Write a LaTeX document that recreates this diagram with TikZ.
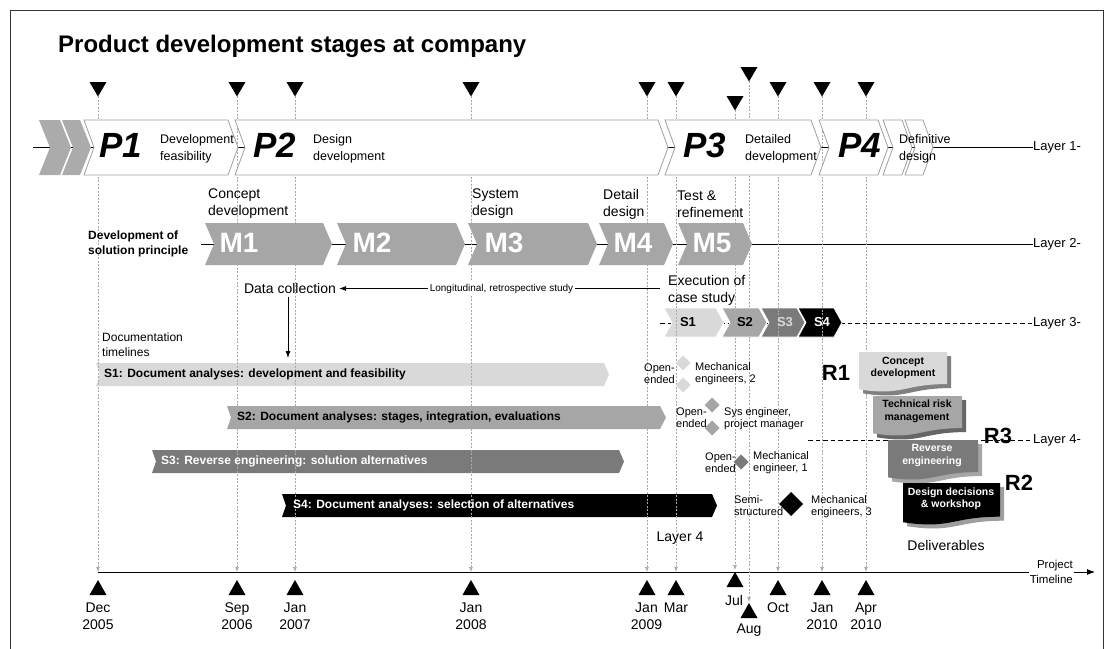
\documentclass[tikz,border=0pt]{standalone}
\usepackage{fontspec}
\setmainfont{Liberation Sans}
\usetikzlibrary{arrows.meta}
\definecolor{lgr}{HTML}{D9D9D9}
\definecolor{mgr}{HTML}{A6A6A6}
\definecolor{dgr}{HTML}{7A7A7A}
\definecolor{cgr}{HTML}{ABABAB}
\definecolor{bord}{HTML}{A0A0A0}
\definecolor{vlc}{HTML}{AAAAAA}
\newcommand\chevx[7]{\path[#7] (#1,#3) -- (#2,#3) -- ({#2+#6},{(#3+#4)/2}) -- (#2,#4) -- (#1,#4) -- ({#1+#5},{(#3+#4)/2}) -- cycle;}
\newcommand\chev[6]{\chevx{#1}{#2}{#3}{#4}{#5}{#5}{#6}}
\newcommand\wavebox[7]{%
 \path[fill=#6] ({#1+#7},{#3+#7}) -- ({#2+#7},{#3+#7}) -- ({#2+#7},{#3+#7+0.802*#4}) .. controls ({(#1+#2)/2+#7},{#3+#7+0.802*#4}) and ({(#1+#2)/2+#7},{#3+#7+1.107*#4}) .. ({#1+#7},{#3+#7+0.934*#4}) -- cycle;
 \path[fill=#5] (#1,#3) -- (#2,#3) -- (#2,{#3+0.802*#4}) .. controls ({(#1+#2)/2},{#3+0.802*#4}) and ({(#1+#2)/2},{#3+1.107*#4}) .. (#1,{#3+0.934*#4}) -- cycle;}
\newcommand\diam[4]{\path[fill=#4] (#1,{#2-#3}) -- ({#1+#3},#2) -- (#1,{#2+#3}) -- ({#1-#3},#2) -- cycle;}
\tikzset{
 every node/.style={inner sep=0pt},
 f10/.style={font=\fontsize{11}{12}\selectfont, align=left, anchor=west},
 f12/.style={font=\fontsize{12.5}{17}\selectfont, align=left, anchor=west},
 f14/.style={font=\fontsize{14}{17}\selectfont, align=left, anchor=west},
 datel/.style={font=\fontsize{14}{17}\selectfont, align=center},
 pl/.style={font=\fontsize{35}{35}\selectfont\bfseries\itshape},
 ml/.style={font=\fontsize{28}{28}\selectfont\bfseries, text=white},
 sl/.style={font=\fontsize{13}{13}\selectfont\bfseries},
 bl/.style={font=\fontsize{12}{12}\selectfont\bfseries, anchor=west},
 wl/.style={font=\fontsize{10.5}{12.5}\selectfont\bfseries, align=center},
 rl/.style={font=\fontsize{22}{22}\selectfont\bfseries},
 lay/.style={font=\fontsize{13}{13}\selectfont, anchor=west},
 vl/.style={draw=vlc, line width=0.7pt, dash pattern=on 2pt off 1.5pt, -{Latex[length=5pt,width=4pt]}},
 pch/.style={fill=white, draw=bord, line width=0.8pt},
 dline/.style={draw=black, line width=0.8pt, dash pattern=on 4.5pt off 3pt},
}
\begin{document}
\begin{tikzpicture}[x=1pt,y=-1pt]
\useasboundingbox (0,0) rectangle (1113,648);
\begin{scope}
\clip (0,0) rectangle (1113,648);
\draw[line width=1pt, draw=black!80] (10,10) rectangle (1103,700);
\end{scope}
\node[anchor=base west, font=\fontsize{24}{28}\selectfont\bfseries] (title) at (58,52) {Product development stages at company};

% layer lines
\coordinate (l1a) at (33,147); \coordinate (l1b) at (1033,147);
\coordinate (l2a) at (201,244); \coordinate (l2b) at (1033,244);
\coordinate (l3a) at (660,323); \coordinate (l3b) at (1033,323);
\coordinate (l4a) at (808,440); \coordinate (l4b) at (1033,440);
\draw[line width=0.9pt] (l1a) -- (l1b);
\draw[line width=0.9pt] (l2a) -- (l2b);
\draw[dline] (l3a) -- (l3b);
\draw[dline] (l4a) -- (l4b);

% M chevrons
\chev{205}{323}{223}{265}{9}{fill=mgr}
\chev{337}{456}{223}{265}{9}{fill=mgr}
\chev{468}{588}{223}{265}{9}{fill=mgr}
\chev{599}{664}{223}{265}{9}{fill=mgr}
\chev{678}{743}{223}{265}{9}{fill=mgr}

% S chevrons
\chev{664}{716}{308}{337}{8}{fill=lgr, draw=white, line width=0.8pt}
\chev{722}{759}{308}{337}{8}{fill=mgr, draw=white, line width=0.8pt}
\chev{761}{797}{308}{337}{8}{fill=dgr, draw=white, line width=0.8pt}
\chev{798}{834}{308}{337}{8}{fill=black, draw=white, line width=0.8pt}

% documentation bars
\chevx{96}{604}{363}{386}{4}{5}{fill=lgr}
\chevx{227}{660}{406}{429}{4}{6}{fill=mgr}
\chevx{152}{619}{450}{473}{4}{5}{fill=dgr}
\chevx{282}{712}{494}{517}{4}{5}{fill=black}

% timeline
\coordinate (t0) at (98,572); \coordinate (tend) at (1095,572);
\draw[line width=0.9pt, -{Latex[length=8pt,width=6pt]}] (t0) -- (tend);

% vertical milestone lines and triangles
\foreach \x/\tt/\bt/\ve in {98/82/580/572, 237/82/580/572, 295/82/580/572, 471/82/580/572, 647/82/580/572, 676/82/580/572, 735/96/572/570, 749/67/603/602, 778/82/580/572, 822/82/580/572, 866/82/580/572}{
 \draw[vl] (\x,{\tt+14}) -- (\x,\ve);
 \fill ({\x-8.5},\tt) -- ({\x+8.5},\tt) -- (\x,{\tt+14.5}) -- cycle;
 \fill (\x,\bt) -- ({\x+8.5},{\bt+15}) -- ({\x-8.5},{\bt+15}) -- cycle;
}

% P chevrons
\chev{39}{60}{120}{175}{11}{fill=cgr}
\chev{62}{80}{120}{175}{11}{fill=cgr}
\chev{84}{228}{120}{175}{10}{pch}
\chev{235}{658}{120}{175}{10}{pch}
\chev{665}{811}{120}{175}{10}{pch}
\chev{819}{878}{120}{175}{10}{pch}
\chev{883}{902}{120}{175}{10}{pch}
\chev{905}{923}{120}{175}{10}{pch}

% banners
\wavebox{859}{947}{352}{40}{lgr}{black!50}{4}
\wavebox{873}{962}{396}{40}{mgr}{black!60}{4}
\wavebox{888}{978}{440}{40}{dgr}{black!35}{4}
\wavebox{903}{1000}{483}{42}{black}{black!38}{4}

% P texts
\node[pl] (p1) at (120.5,145) {P1};
\node[pl] (p2) at (274.5,145) {P2};
\node[pl] (p3) at (704.5,145) {P3};
\node[pl] (p4) at (859.5,145) {P4};
\node[f12] (p1t) at (160,148.5) {Development\\feasibility};
\node[f12] (p2t) at (313,148.5) {Design\\development};
\node[f12] (p3t) at (745,148.5) {Detailed\\development};
\node[f12] (p4t) at (899,148.5) {Definitive\\design};

% M texts
\node[ml] (m1) at (239,243) {M1};
\node[ml] (m2) at (372,243) {M2};
\node[ml] (m3) at (504,243) {M3};
\node[ml] (m4) at (633,243) {M4};
\node[ml] (m5) at (712,243) {M5};
\node[f14] (m1t) at (208,204) {Concept\\development};
\node[f14] (m3t) at (472,204) {System\\design};
\node[f14] (m4t) at (603,204) {Detail\\design};
\node[f14] (m5t) at (677,204) {Test \&\\refinement};
\node[font=\fontsize{12}{15}\selectfont\bfseries, align=left, anchor=west] (dsp) at (88,243.5) {Development of\\solution principle};

% data collection
\node[font=\fontsize{14}{17}\selectfont, inner sep=3pt] (dc) at (290,288.5) {Data collection};
\node[f14] (exec) at (668,290) {Execution of\\case study};
\coordinate (lstart) at (660,288.5);
\draw[line width=0.8pt, -{Latex[length=7pt,width=5pt]}] (lstart) -- (lstart -| dc.east);
\node[font=\fontsize{10}{10}\selectfont, fill=white, inner sep=1.5pt] (long) at (501.5,288.5) {Longitudinal, retrospective study};
\coordinate (dcdown) at (288,358);
\draw[line width=0.8pt, -{Latex[length=7pt,width=5pt]}] (dc.south -| dcdown) -- (dcdown);
\node[font=\fontsize{12}{15}\selectfont, align=left, anchor=west] (doct) at (102,344.5) {Documentation\\timelines};

% S chevron labels
\node[sl] (s1) at (688,322) {S1};
\node[sl] (s2) at (745,322) {S2};
\node[sl, text=lgr] (s3) at (785,322) {S3};
\node[sl, text=white] (s4) at (822,322) {S4};

% bar texts
\node[bl] (b1) at (104,374.5) {S1: Document analyses: development and feasibility};
\node[bl] (b2) at (237,417.5) {S2: Document analyses: stages, integration, evaluations};
\node[bl, text=white] (b3) at (161,461.5) {S3: Reverse engineering: solution alternatives};
\node[bl, text=white] (b4) at (293,505.5) {S4: Document analyses: selection of alternatives};

% interviews
\diam{683}{363}{7.5}{lgr}
\diam{683}{385}{7.5}{lgr}
\diam{712}{405}{7.5}{mgr}
\diam{712}{428}{7.5}{mgr}
\diam{741}{462}{7.5}{dgr}
\diam{791}{504}{12}{black}
\node[f10] (o1) at (644,373.5) {Open-\\ended};
\node[f10] (e1) at (695,373.5) {Mechanical\\engineers, 2};
\node[f10] (o2) at (676,417.5) {Open-\\ended};
\node[f10] (e2) at (724,418.5) {Sys engineer,\\project manager};
\node[f10] (o3) at (705,462.5) {Open-\\ended};
\node[f10] (e3) at (753,462.5) {Mechanical\\engineer, 1};
\node[f10] (o4) at (734,505.5) {Semi-\\structured};
\node[f10] (e4) at (811,507) {Mechanical\\engineers, 3};

% banner texts
\node[wl] (w1) at (903,368) {Concept\\development};
\node[wl] (w2) at (917,411.5) {Technical risk\\management};
\node[wl, text=white] (w3) at (932,455.5) {Reverse\\engineering};
\node[wl, text=white] (w4) at (951,499) {Design decisions\\\& workshop};
\node[rl] (r1) at (836,373) {R1};
\node[rl] (r3) at (998,436) {R3};
\node[rl] (r2) at (1019,483) {R2};
\node[font=\fontsize{14}{17}\selectfont] (lay4t) at (680,538) {Layer 4};
\node[font=\fontsize{14}{17}\selectfont] (deliv) at (946,545) {Deliverables};

% layer labels
\node[lay] (lay1) at (l1b) {Layer 1-};
\node[lay] (lay2) at (l2b) {Layer 2-};
\node[lay] (lay3) at (l3b) {Layer 3-};
\node[lay] (lay4) at (l4b) {Layer 4-};

% dates
\node[datel] (d1) at (98,616.5) {Dec\\2005};
\node[datel] (d2) at (237,616.5) {Sep\\2006};
\node[datel] (d3) at (295,616.5) {Jan\\2007};
\node[datel] (d4) at (471,616.5) {Jan\\2008};
\node[datel] (d5) at (646.5,616.5) {Jan\\2009};
\node[datel] (d6) at (676,608) {Mar};
\node[datel] (d7) at (734,600) {Jul};
\node[datel] (d8) at (749,630) {Aug};
\node[datel] (d9) at (778,608) {Oct};
\node[datel] (d10) at (822,616.5) {Jan\\2010};
\node[datel] (d11) at (866,616.5) {Apr\\2010};
\node[font=\fontsize{11.5}{15}\selectfont, align=right, anchor=east, fill=white, inner sep=1pt] (ptl) at (1074,571.5) {Project\\Timeline};
\end{tikzpicture}
\end{document}
